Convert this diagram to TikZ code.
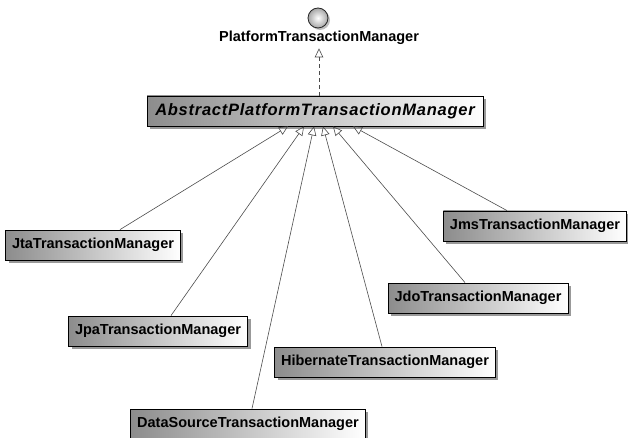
\documentclass[tikz,border=0pt]{standalone}
\usepackage{fontspec}
\setmainfont{Liberation Sans}
\newfontfamily\spacedfont{Liberation Sans}[LetterSpace=4.5]
\usepackage{tikz}
\usetikzlibrary{arrows.meta}
\usetikzlibrary{shadows}

\begin{document}
\begin{tikzpicture}[x=1pt,y=-1pt,
  every node/.style={font=\fontsize{14.5}{16}\selectfont\bfseries},
  cls/.style={draw=black, thick, left color=black!45, right color=white, minimum height=30pt, inner xsep=6.5pt,
    drop shadow={shadow xshift=3pt, shadow yshift=-3pt, fill=black!40, opacity=1}},
  gen/.style={draw=black!70, semithick, -{Triangle[open, length=9pt, width=8.5pt]}}]
\useasboundingbox (0,0) rectangle (628,438);

\coordinate (O) at (318,18);
\coordinate (P) at (319,38);
\coordinate (A) at (315,111);
\coordinate (B) at (93,245);  % jta
\coordinate (C) at (158,331); % jpa
\coordinate (D) at (248,424); % datasource
\coordinate (E) at (385,362); % hibernate
\coordinate (F) at (478,298); % jdo
\coordinate (G) at (535,226); % jms

\node[circle, draw=black!85, thick, minimum size=20pt, inner sep=0pt, inner color=white, outer color=black!35,
  drop shadow={shadow xshift=2pt, shadow yshift=-2pt, fill=black!25, opacity=1}] (iface) at (O) {};
\node (ptm) at (P) {PlatformTransactionManager};
\node[cls, minimum width=336pt, inner xsep=3pt] (aptm) at (A) {\spacedfont\fontsize{16.5}{18}\selectfont\bfseries\itshape AbstractPlatformTransactionManager};
%
\node[cls] (jta) at (B) {JtaTransactionManager};
\node[cls] (jpa) at (C) {JpaTransactionManager};
\node[cls] (ds) at (D) {DataSourceTransactionManager};
\node[cls] (hib) at (E) {HibernateTransactionManager};
\node[cls] (jdo) at (F) {JdoTransactionManager};
\node[cls] (jms) at (G) {JmsTransactionManager};
%
\draw[gen, dash pattern=on 4pt off 3pt] (aptm.north -| ptm.south) -- (ptm.south);
\draw[gen] ([xshift=27pt]jta.north) -- ([xshift=-27pt]aptm.south);
\draw[gen] ([xshift=13pt]jpa.north) -- ([xshift=-11pt]aptm.south);
\draw[gen] ([xshift=4pt]ds.north) -- ([xshift=-1pt]aptm.south);
\draw[gen] ([xshift=-3pt]hib.north) -- ([xshift=8pt]aptm.south);
\draw[gen] ([xshift=-13pt]jdo.north) -- ([xshift=18pt]aptm.south);
\draw[gen] ([xshift=-28pt]jms.north) -- ([xshift=38pt]aptm.south);
\end{tikzpicture}
\end{document}
